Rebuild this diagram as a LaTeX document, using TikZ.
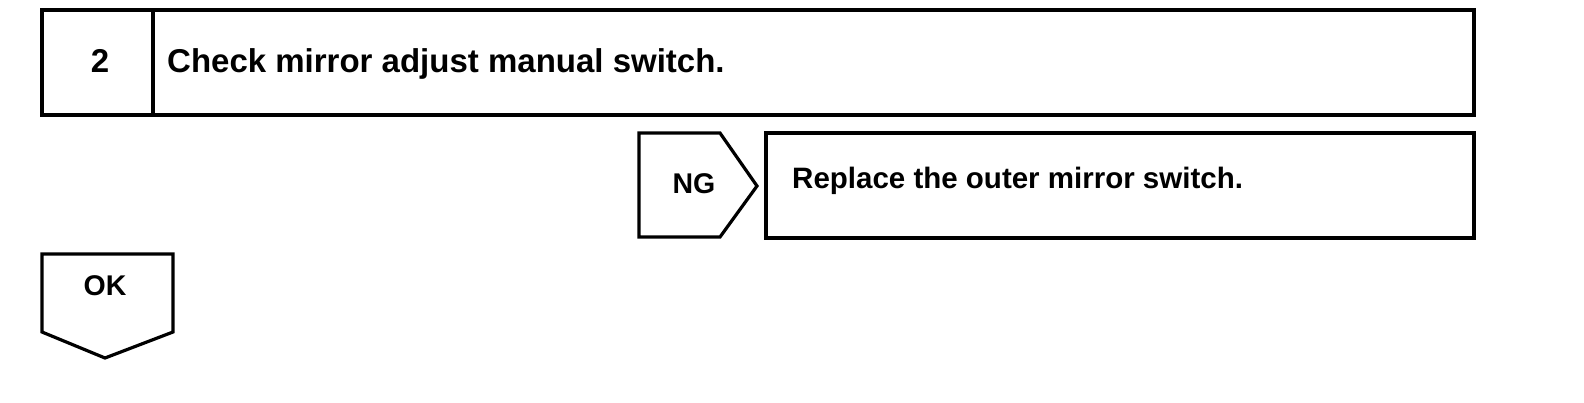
\documentclass[tikz,border=0pt]{standalone}
\usepackage{fontspec}
\setmainfont{Liberation Sans}
\begin{document}
\begin{tikzpicture}[x=1pt,y=-1pt,
  frame/.style={draw=black,line width=3.2pt,line join=miter},
  big/.style={inner sep=0pt,font=\fontsize{33}{38}\selectfont\bfseries},
  mid/.style={inner sep=0pt,font=\fontsize{29.5}{34}\selectfont\bfseries},
  tag/.style={inner sep=0pt,font=\fontsize{28.5}{33}\selectfont\bfseries}]
\useasboundingbox[fill=white] (0,0) rectangle (1584,402);
% step box
\draw[frame] (42,10) rectangle (1474,115);
\draw[frame] (153,10) -- (153,115);
\node[big,anchor=base] (num) at (100,72) {2};
\node[big,anchor=base west] (title) at (167,72) {Check mirror adjust manual switch.};
% NG tag
\draw[frame] (639,133) -- (720,133) -- (757,186) -- (720,237) -- (639,237) -- cycle;
\node[tag,anchor=base] (ng) at (694,193) {NG};
% result box
\draw[frame] (766,133) rectangle (1474,238);
\node[mid,anchor=base west] (res) at (792,188) {Replace the outer mirror switch.};
% OK tag
\draw[frame] (42,254) -- (173,254) -- (173,332) -- (105,358) -- (42,332) -- cycle;
\node[tag,anchor=base] (ok) at (105,295) {OK};
\end{tikzpicture}
\end{document}
